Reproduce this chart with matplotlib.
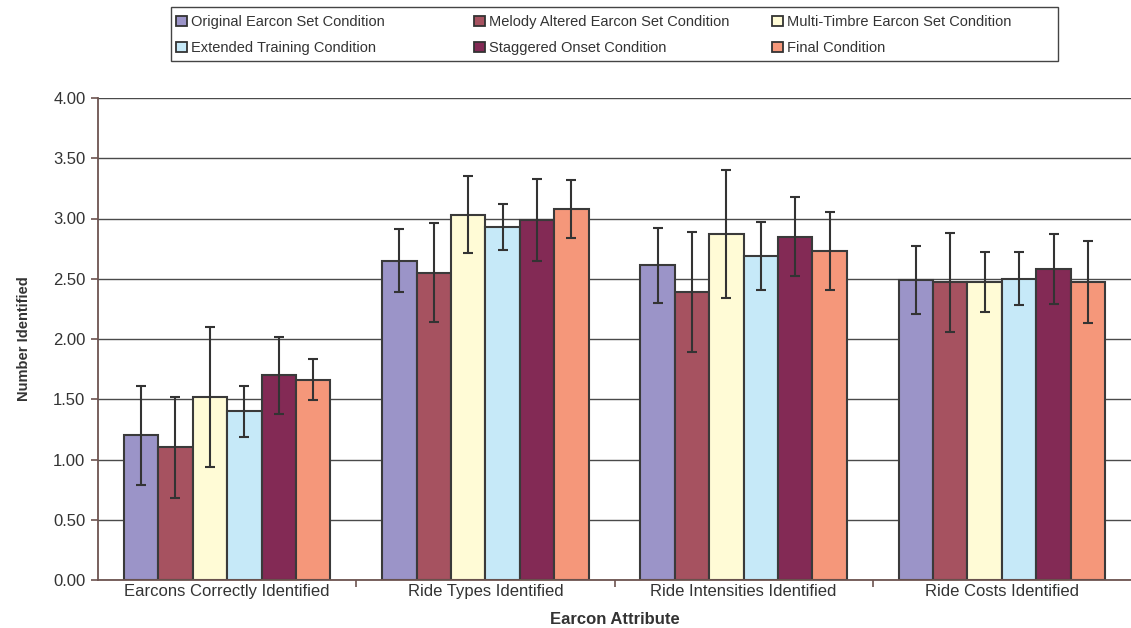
import matplotlib
matplotlib.use("Agg")
import matplotlib.pyplot as plt
from matplotlib.patches import Patch, Rectangle
import numpy as np

plt.rcParams['font.family'] = ['Liberation Sans', 'DejaVu Sans']

categories = ["Earcons Correctly Identified", "Ride Types Identified",
              "Ride Intensities Identified", "Ride Costs Identified"]
series_names = ["Original Earcon Set Condition", "Melody Altered Earcon Set Condition",
                "Multi-Timbre Earcon Set Condition", "Extended Training Condition",
                "Staggered Onset Condition", "Final Condition"]
colors = ["#9B94C8", "#A65260", "#FFFBD6", "#C6E9F8", "#832A55", "#F5977A"]

original = [1.20, 2.65, 2.61, 2.49]
melody = [1.10, 2.55, 2.39, 2.47]
multi_timbre = [1.52, 3.03, 2.87, 2.47]
extended = [1.40, 2.93, 2.69, 2.50]
staggered = [1.70, 2.99, 2.85, 2.58]
final = [1.66, 3.08, 2.73, 2.47]

original_err = [0.41, 0.26, 0.31, 0.28]
melody_err = [0.42, 0.41, 0.50, 0.41]
multi_timbre_err = [0.58, 0.32, 0.53, 0.25]
extended_err = [0.21, 0.19, 0.28, 0.22]
staggered_err = [0.32, 0.34, 0.33, 0.29]
final_err = [0.17, 0.24, 0.32, 0.34]

yticks = [0.0, 0.5, 1.0, 1.5, 2.0, 2.5, 3.0, 3.5, 4.0]

values = [original, melody, multi_timbre, extended, staggered, final]
errors = [original_err, melody_err, multi_timbre_err, extended_err, staggered_err, final_err]

W, H = 1131, 628
fig = plt.figure(figsize=(W / 100, H / 100), dpi=100)
ax = fig.add_axes([98 / W, 1 - 580 / H, (1131 - 98) / W, (580 - 98) / H])

x = np.arange(len(categories))
n = len(values)
bw = 0.8 / n
edge = "#3a3a3a"
spine_c = "#6d5450"

ax.set_axisbelow(True)
for i, (v, e) in enumerate(zip(values, errors)):
    pos = x - 0.4 + bw * (i + 0.5)
    ax.bar(pos, v, width=bw, color=colors[i], edgecolor=edge, linewidth=1.5, zorder=2)
    ax.errorbar(pos, v, yerr=e, fmt='none', ecolor="#333333", elinewidth=1.5,
                capsize=3.5, capthick=1.5, zorder=3)

ax.set_xlim(-0.5, 3.5)
ax.set_ylim(0, 4)
ax.set_yticks(yticks)
ax.set_yticklabels([f"{t:.2f}" for t in yticks])
ax.yaxis.grid(True, color="#4a4a4a", linewidth=1.0)
ax.set_xticks(x)
ax.set_xticklabels(categories)
ax.set_xticks([0.5, 1.5, 2.5], minor=True)
ax.tick_params(axis='x', which='major', length=0, labelsize=12, labelcolor="#333333", pad=3)
ax.tick_params(axis='x', which='minor', length=5, color=spine_c, width=1.2)
ax.tick_params(axis='y', length=5, color=spine_c, width=1.2, labelsize=12, labelcolor="#333333", pad=4)

for s in ['top', 'right']:
    ax.spines[s].set_visible(False)
for s in ['left', 'bottom']:
    ax.spines[s].set_color(spine_c)
    ax.spines[s].set_linewidth(1.3)

ax.set_xlabel("Earcon Attribute", fontsize=12, fontweight='bold', color="#333333", labelpad=9)
ax.set_ylabel("Number Identified", fontsize=10.5, fontweight='bold', color="#333333", labelpad=16)

# legend frame
fig.patches.append(Rectangle((171 / W, 1 - 61 / H), (1058 - 171) / W, (61 - 7) / H,
                             transform=fig.transFigure, facecolor='white',
                             edgecolor="#444444", linewidth=1.0, zorder=0))
col_x = [176, 474, 772]
for c in range(3):
    handles = []
    for r in range(2):
        idx = r * 3 + c
        handles.append(Patch(facecolor=colors[idx], edgecolor="#333333", linewidth=1.3,
                             label=series_names[idx]))
    leg = fig.legend(handles=handles, loc='upper left',
                     bbox_to_anchor=(col_x[c] / W, 1 - 15 / H), frameon=False,
                     fontsize=10.5, handlelength=0.75, handleheight=0.75,
                     handletextpad=0.3, labelspacing=0.82, borderpad=0.0,
                     borderaxespad=0.0, labelcolor="#333333")

fig.savefig("out.png", dpi=100)
